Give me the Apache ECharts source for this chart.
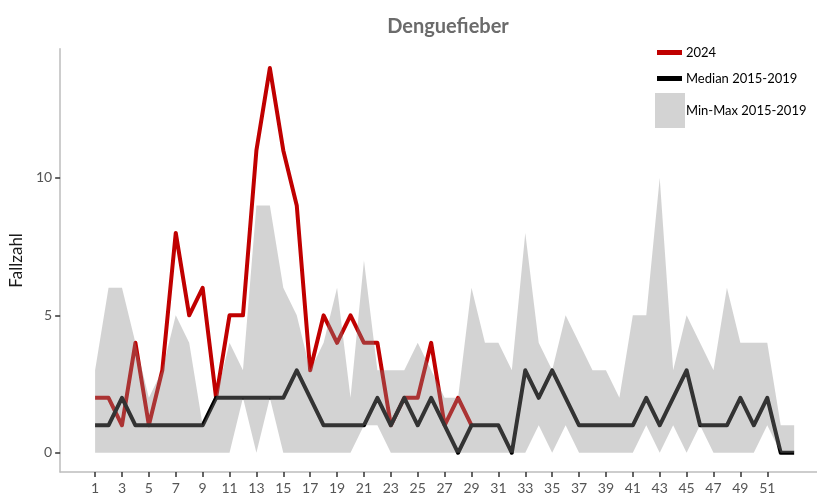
<!DOCTYPE html>
<html>
<head>
<meta charset="utf-8">
<script src="https://cdn.jsdelivr.net/npm/echarts@6/dist/echarts.min.js"></script>
<style>
  html, body { margin: 0; padding: 0; background: #fff; }
  #chart { width: 817px; height: 497px; }
</style>
</head>
<body>
<div id="chart"></div>
<script>
// Kalenderwochen
const weeks = [1, 2, 3, 4, 5, 6, 7, 8, 9, 10, 11, 12, 13, 14, 15, 16, 17, 18, 19, 20,
  21, 22, 23, 24, 25, 26, 27, 28, 29, 30, 31, 32, 33, 34, 35, 36, 37, 38, 39, 40,
  41, 42, 43, 44, 45, 46, 47, 48, 49, 50, 51, 52, 53]
// Fälle 2024 (bis KW 29)
const cases2024 = [2, 2, 1, 4, 1, 3, 8, 5, 6, 2, 5, 5, 11, 14, 11, 9, 3, 5, 4, 5,
  4, 4, 1, 2, 2, 4, 1, 2, 1]
// Median 2015-2019
const median = [1, 1, 2, 1, 1, 1, 1, 1, 1, 2, 2, 2, 2, 2, 2, 3, 2, 1, 1, 1,
  1, 2, 1, 2, 1, 2, 1, 0, 1, 1, 1, 0, 3, 2, 3, 2, 1, 1, 1, 1,
  1, 2, 1, 2, 3, 1, 1, 1, 2, 1, 2, 0, 0]
// Min / Max 2015-2019
const minVals = [0, 0, 0, 0, 0, 0, 0, 0, 0, 0, 0, 2, 0, 2, 0, 0, 0, 0, 0, 0,
  1, 1, 0, 0, 0, 0, 0, 0, 0, 0, 0, 0, 0, 1, 0, 1, 0, 0, 0, 0,
  0, 1, 0, 1, 0, 1, 0, 0, 0, 0, 1, 0, 0]
const maxVals = [3, 6, 6, 4, 2, 3, 5, 4, 1, 2, 4, 3, 9, 9, 6, 5, 3, 4, 6, 2,
  7, 3, 3, 3, 4, 3, 2, 2, 6, 4, 4, 3, 8, 4, 3, 5, 4, 3, 3, 2,
  5, 5, 10, 3, 5, 4, 3, 6, 4, 4, 4, 1, 1]
// Achsenbeschriftung
const xTicks = [1, 3, 5, 7, 9, 11, 13, 15, 17, 19, 21, 23, 25, 27, 29, 31, 33, 35, 37, 39,
  41, 43, 45, 47, 49, 51]
const yTicks = [0, 5, 10]

const FONT = 'Lato'
const pairs = (vals) => vals.map((v, i) => [weeks[i], v])

let mycharts = echarts.init(document.getElementById('chart'))
mycharts.setOption({
  animation: false,
  textStyle: { fontFamily: FONT },
  title: {
    text: 'Denguefieber',
    left: 443,
    top: 12,
    textAlign: 'center',
    textStyle: { fontFamily: FONT, fontSize: 20, fontWeight: 'bold', color: '#6b6b6b' },
  },
  //Legende: drei Blöcke wegen verschiedener Symbolgrößen
  legend: [
    {
      left: 657, top: 46, padding: 0,
      itemWidth: 25, itemHeight: 5,
      textStyle: { fontFamily: FONT, fontSize: 13, color: '#000', padding: [0, 0, 0, -1] },
      data: [{ name: '2024', icon: 'rect' }],
    },
    {
      left: 657, top: 72, padding: 0,
      itemWidth: 25, itemHeight: 5,
      textStyle: { fontFamily: FONT, fontSize: 13, color: '#000', padding: [0, 0, 0, -1] },
      data: [{ name: 'Median 2015-2019', icon: 'rect' }],
    },
    {
      left: 655, top: 93, padding: 0,
      itemWidth: 30, itemHeight: 35,
      textStyle: { fontFamily: FONT, fontSize: 13, color: '#000', padding: [0, 0, 0, -4] },
      data: [{ name: 'Min-Max 2015-2019', icon: 'rect', itemStyle: { color: '#d3d3d3', opacity: 1 } }],
    },
  ],
  grid: {
    left: 58,
    top: 48.75,
    right: 0,
    bottom: 25,
  },
  xAxis: {
    type: 'value',
    min: -1.6,
    max: 54.7,
    splitLine: { show: false },
    axisLine: { show: true, onZero: false, lineStyle: { color: '#bdbdbd', width: 1.5 } },
    axisTick: { show: true, customValues: xTicks, length: 5, lineStyle: { color: '#333', width: 1.5 } },
    axisLabel: { customValues: xTicks, margin: 9, fontFamily: FONT, fontSize: 14, color: '#555' },
  },
  yAxis: {
    type: 'value',
    min: -0.7,
    max: 14.7,
    name: 'Fallzahl',
    nameLocation: 'middle',
    nameRotate: 90,
    nameGap: 23,
    nameTextStyle: { fontFamily: FONT, fontSize: 17, color: '#1a1a1a' },
    splitLine: { show: false },
    axisLine: { show: true, onZero: false, lineStyle: { color: '#bdbdbd', width: 1.5 } },
    axisTick: { show: true, customValues: yTicks, length: 5, lineStyle: { color: '#333', width: 1.5 } },
    axisLabel: { customValues: yTicks, margin: 8, fontFamily: FONT, fontSize: 14, color: '#555' },
  },
  series: [
    {
      name: '2024',
      type: 'line',
      data: pairs(cases2024),
      symbol: 'none',
      color: '#c00000',
      lineStyle: { width: 4, color: '#c00000', join: 'round' },
      z: 2,
    },
    {
      name: 'Median 2015-2019',
      type: 'line',
      data: pairs(median),
      symbol: 'none',
      color: '#000',
      lineStyle: { width: 4, color: '#000', join: 'round' },
      z: 2,
    },
    //Band Min-Max als ein Polygon, halbtransparent über den Linien
    {
      name: 'Min-Max 2015-2019',
      type: 'custom',
      data: weeks.map((w, i) => [w, minVals[i], maxVals[i]]),
      encode: { x: 0, y: [1, 2] },
      itemStyle: { color: '#d3d3d3' },
      silent: true,
      z: 3,
      renderItem: (params, api) => {
        if (params.dataIndex !== 0) return null
        const top = weeks.map((w, i) => api.coord([w, maxVals[i]]))
        const bottom = weeks.map((w, i) => api.coord([w, minVals[i]])).reverse()
        return {
          type: 'polygon',
          shape: { points: top.concat(bottom) },
          style: { fill: '#898989', opacity: 0.373 },
        }
      },
    },
  ],
})
</script>
</body>
</html>
